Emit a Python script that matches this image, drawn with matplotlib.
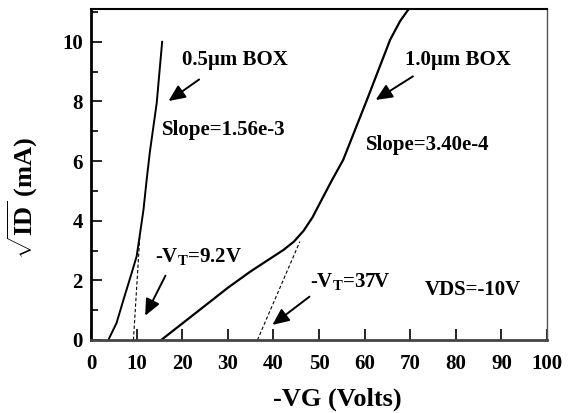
import matplotlib
matplotlib.use("Agg")
import matplotlib.pyplot as plt
from matplotlib.ticker import MultipleLocator

plt.rcParams['font.family'] = ['Liberation Serif', 'DejaVu Serif']
plt.rcParams['font.weight'] = 'bold'
plt.rcParams['mathtext.fontset'] = 'custom'
plt.rcParams['mathtext.rm'] = 'Liberation Serif:bold'
plt.rcParams['mathtext.bf'] = 'Liberation Serif:bold'
plt.rcParams['mathtext.it'] = 'Liberation Serif:bold'

# 0.5um BOX curve (sqrt(ID) vs -VG)
vg_05 = [3.8, 5.6, 7.1, 8.9, 10.0, 10.7, 11.5, 12.2, 12.9, 14.4, 15.6]
id_05 = [0.0, 0.57, 1.34, 2.24, 2.8, 3.52, 4.36, 5.37, 6.3, 7.94, 10.0]

# 1.0um BOX curve
vg_10 = [15.4, 25.0, 30.0, 35.0, 42.2, 44.5, 46.6, 48.6, 50.5, 52.8, 55.3, 60.5, 65.6, 67.8, 70.0]
id_10 = [0.0, 1.15, 1.75, 2.3, 3.02, 3.3, 3.66, 4.12, 4.68, 5.35, 6.04, 8.05, 10.07, 10.7, 11.17]

# extrapolation lines
fit_05_x = [9.3, 10.7]
fit_05_y = [0.0, 3.47]
fit_10_x = [36.5, 45.8]
fit_10_y = [0.0, 3.3]

fig = plt.figure(figsize=(5.71, 4.13), dpi=100)
ax = fig.add_axes([0.1594, 0.1768, 0.7986, 0.8014])

ax.plot(vg_05, id_05, color='black', lw=1.4)
ax.plot(vg_10, id_10, color='black', lw=1.6)
ax.plot(fit_05_x, fit_05_y, color='black', lw=0.8, ls=(0, (3, 2)))
ax.plot(fit_10_x, fit_10_y, color='black', lw=0.8, ls=(0, (3, 2)))

ax.set_xlim(0, 100)
ax.set_ylim(0, 11.1)
ax.xaxis.set_major_locator(MultipleLocator(10))
ax.yaxis.set_major_locator(MultipleLocator(2))
ax.yaxis.set_minor_locator(MultipleLocator(1))
ax.tick_params(axis='both', which='both', direction='in', labelsize=15, width=1.2)
ax.tick_params(axis='x', which='major', length=8, pad=10)
ax.tick_params(axis='y', which='major', length=8, pad=6)
ax.tick_params(axis='y', which='minor', length=5)
ax.tick_params(top=False, right=False)

ax.spines['left'].set_linewidth(2.0)
ax.spines['bottom'].set_linewidth(2.0)
ax.spines['bottom'].set_color('#444444')
ax.spines['top'].set_linewidth(1.5)
ax.spines['right'].set_linewidth(1.0)
ax.spines['right'].set_color('#555555')

ax.set_xlabel('-VG (Volts)', fontsize=19, fontweight='bold')
ax.xaxis.set_label_coords(0.54, -0.145)
ax.set_ylabel(r'$\sqrt{\mathrm{ID}}$ (mA)', fontsize=19, fontweight='bold')
ax.yaxis.set_label_coords(-0.112, 0.43)

fs = 15
arrow = dict(arrowstyle='-|>,head_length=1.0,head_width=0.45', color='black', lw=1.4)
ax.text(20.0, 9.4, '0.5\u00b5m BOX', fontsize=fs, va='center')
ax.annotate('', xy=(16.5, 7.96), xytext=(24.2, 8.79), arrowprops=arrow)
ax.text(15.6, 7.05, 'Slope=1.56e-3', fontsize=fs, va='center')

ax.text(68.9, 9.4, '1.0\u00b5m BOX', fontsize=fs, va='center')
ax.annotate('', xy=(61.9, 8.0), xytext=(71.1, 8.89), arrowprops=arrow)
ax.text(60.3, 6.54, 'Slope=3.40e-4', fontsize=fs, va='center')

ax.text(14.0, 2.79, r'-V$_\mathrm{T}$=9.2V', fontsize=fs, va='center')
ax.annotate('', xy=(11.6, 0.73), xytext=(16.6, 2.24), arrowprops=arrow)
ax.text(48.0, 1.95, r'-V$_\mathrm{T}$=37V', fontsize=fs, va='center')
ax.annotate('', xy=(39.3, 0.45), xytext=(48.4, 1.51), arrowprops=arrow)

ax.text(73.2, 1.68, 'VDS=-10V', fontsize=fs, va='center')

fig.savefig('out.png', dpi=100)
